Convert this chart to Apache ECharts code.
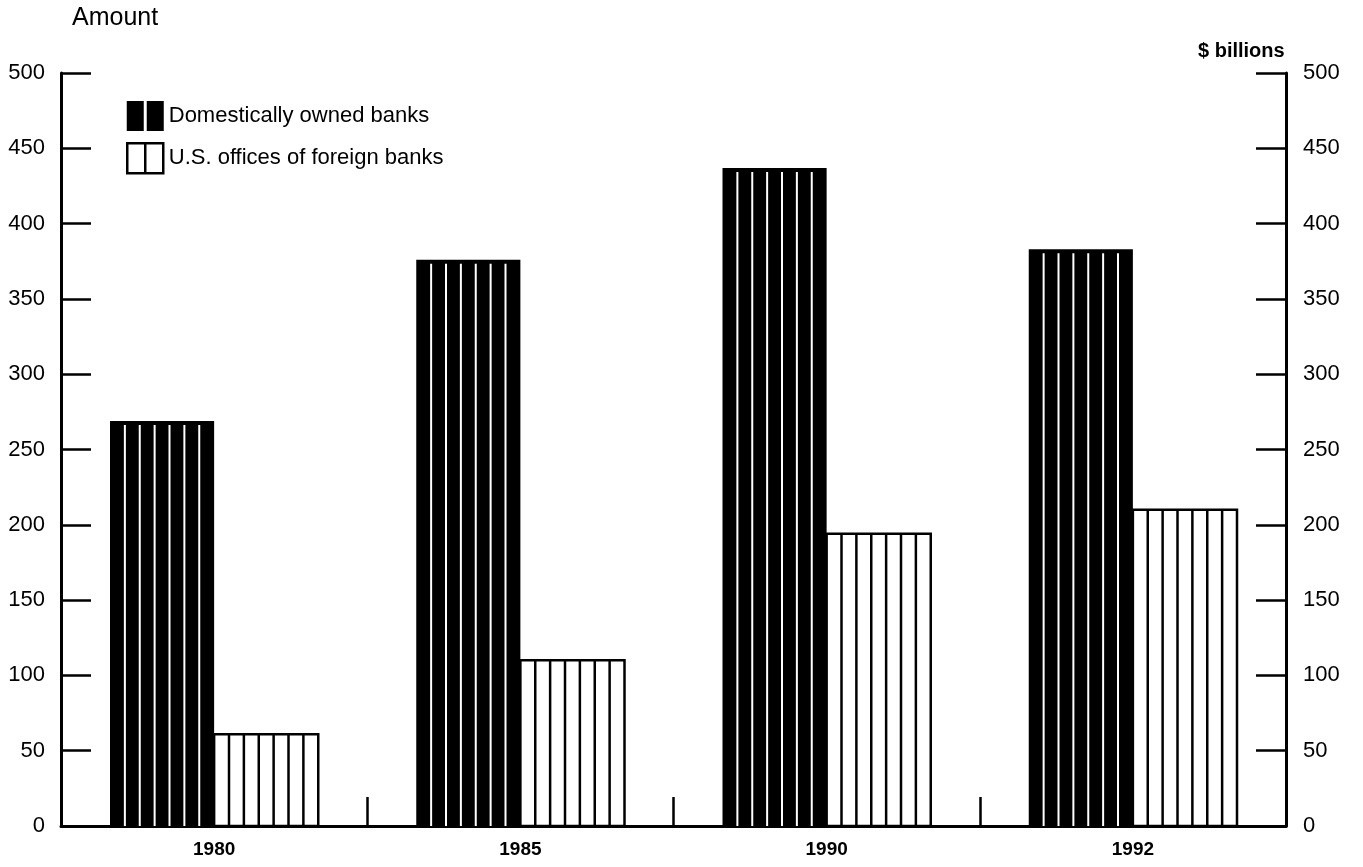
<!DOCTYPE html>
<html>
<head>
<meta charset="utf-8">
<script src="https://cdn.jsdelivr.net/npm/echarts@6/dist/echarts.min.js"></script>
<style>
html,body{margin:0;padding:0;background:#fff;}
#chart{width:1363px;height:867px;}
</style>
</head>
<body>
<div id="chart"></div>
<script>
// ---- data ----
const years = ['1980', '1985', '1990', '1992'];
const domesticBanks = [269, 376, 437, 383];
const foreignBanks = [61, 110, 194, 210];
const seriesNames = ['Domestically owned banks', 'U.S. offices of foreign banks'];
const leftAxisTitle = 'Amount';
const rightAxisTitle = '$ billions';

const FONT = '"Liberation Sans", Arial, Helvetica, sans-serif';

function makeRender(side) {
  return function (params, api) {
    const i = api.value(0);
    const v = api.value(1);
    const base = api.coord([i, 0]);
    const top = api.coord([i, v]);
    const band = api.size([1, 0])[0];
    const w = band * 0.34;
    const x0 = side === 'dom' ? base[0] - w : base[0];
    const h = base[1] - top[1];
    const n = 7;
    const children = [];
    if (side === 'dom') {
      children.push({type: 'rect', shape: {x: x0, y: top[1], width: w, height: h}, style: {fill: '#000'}});
      for (let k = 1; k < n; k++) {
        const x = x0 + k * w / n;
        children.push({type: 'line', shape: {x1: x, y1: top[1] + 4, x2: x, y2: base[1]}, style: {stroke: '#fff', lineWidth: 2}});
      }
    } else {
      children.push({type: 'rect', shape: {x: x0, y: top[1], width: w, height: h}, style: {fill: '#fff', stroke: '#000', lineWidth: 2.5}});
      for (let k = 1; k < n; k++) {
        const x = x0 + k * w / n;
        children.push({type: 'line', shape: {x1: x, y1: top[1], x2: x, y2: base[1]}, style: {stroke: '#000', lineWidth: 2.5}});
      }
    }
    return {type: 'group', children: children};
  };
}

const chart = echarts.init(document.getElementById('chart'));

const yAxisCommon = {
  type: 'value', min: 0, max: 500, interval: 50,
  axisLine: {show: true, lineStyle: {color: '#000', width: 3}},
  axisTick: {show: true, inside: true, length: 30, lineStyle: {color: '#000', width: 2.5}},
  splitLine: {show: false},
  axisLabel: {color: '#000', fontSize: 22, fontFamily: FONT}
};

chart.setOption({
  animation: false,
  backgroundColor: '#fff',
  grid: {left: 61, right: 77, top: 73, bottom: 41, containLabel: false},
  legend: {
    orient: 'vertical', left: 126, top: 101, padding: 0,
    itemWidth: 37, itemHeight: 30, itemGap: 11,
    textStyle: {color: '#000', fontSize: 22, fontFamily: FONT},
    selectedMode: false,
    data: [
      {name: seriesNames[0], icon: 'path://M0,0H17V30H0Z M20,0H37V30H20Z', itemStyle: {color: '#000'}},
      {name: seriesNames[1], icon: 'path://M0,0H18V30H0Z M18,0H36V30H18Z', itemStyle: {color: '#fff', borderColor: '#000', borderWidth: 2.5}}
    ]
  },
  graphic: [
    {type: 'text', left: 72, top: 6, style: {text: leftAxisTitle, fontSize: 25, fontFamily: FONT, fill: '#000'}},
    {type: 'text', left: 1198, top: 41, style: {text: rightAxisTitle, fontSize: 20, fontWeight: 'bold', fontFamily: FONT, fill: '#000'}}
  ],
  xAxis: {
    type: 'category', data: years, boundaryGap: true,
    axisLine: {show: true, lineStyle: {color: '#000', width: 3}},
    axisTick: {show: true, inside: true, length: 29, lineStyle: {color: '#000', width: 2.5}},
    axisLabel: {color: '#000', fontSize: 19, fontWeight: 'bold', fontFamily: FONT, margin: 14},
    splitLine: {show: false}
  },
  yAxis: [
    Object.assign({}, yAxisCommon, {position: 'left', axisLabel: Object.assign({}, yAxisCommon.axisLabel, {margin: 16})}),
    Object.assign({}, yAxisCommon, {position: 'right', axisLabel: Object.assign({}, yAxisCommon.axisLabel, {margin: 17})})
  ],
  series: [
    {
      name: seriesNames[0], type: 'custom', renderItem: makeRender('dom'),
      encode: {x: 0, y: 1}, itemStyle: {color: '#000'},
      data: years.map((y, i) => [i, domesticBanks[i]])
    },
    {
      name: seriesNames[1], type: 'custom', renderItem: makeRender('for'),
      encode: {x: 0, y: 1}, itemStyle: {color: '#fff', borderColor: '#000'},
      data: years.map((y, i) => [i, foreignBanks[i]])
    }
  ]
});
</script>
</body>
</html>
